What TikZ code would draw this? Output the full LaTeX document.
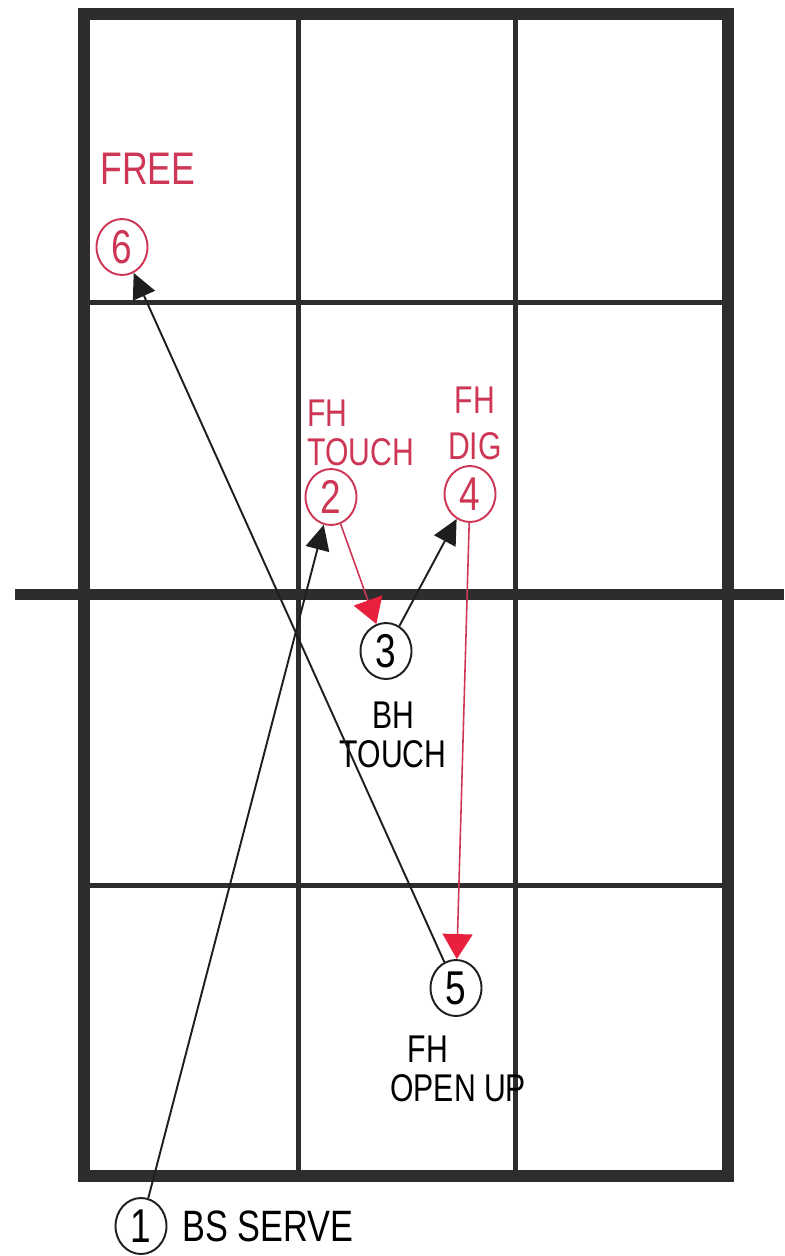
\documentclass[tikz,border=0pt]{standalone}
\usepackage{fontspec}
\usepackage{tikz}
\usetikzlibrary{shapes.geometric, arrows.meta, positioning}
\newfontfamily\handfont[FakeStretch=0.78]{Liberation Sans}
\definecolor{cInk}{RGB}{30,30,30}
\definecolor{cPen}{RGB}{205,55,85}
\definecolor{cTip}{RGB}{232,32,62}
\definecolor{cCourt}{RGB}{45,45,45}
\tikzset{
	% players / contacts
	shot/.style    ={ellipse, draw=cInk, line width=1.1pt, minimum width=1.02cm, minimum height=1.12cm, inner sep=0pt, font=\handfont\fontsize{27}{27}\selectfont},
	redshot/.style ={shot, draw=cPen, text=cPen},
	tag/.style     ={align=center, inner sep=0pt, font=\handfont\fontsize{22}{22}\selectfont},
	redtag/.style  ={tag, text=cPen},
	% ball paths
	blackhit/.style={-{Triangle[length=0.5cm, width=0.48cm]}, cInk, line width=1.1pt},
	redhit/.style  ={-{Triangle[length=0.5cm, width=0.6cm, color=cTip]}, cPen, line width=0.9pt},
	% court
	outline/.style ={draw=cCourt, line width=0.24cm},
	courtline/.style={draw=cCourt, line width=0.1cm},
}
\begin{document}
\begin{tikzpicture}[x=0.02cm, y=-0.02cm]
	\useasboundingbox (0,0) rectangle (784,1256);
	% court and net
	\draw[outline] (84,14) rectangle (728,1176);
	\foreach \x in {298,515} \draw[courtline] (\x,14) -- (\x,1176);
	\foreach \y in {303,885} \draw[courtline] (84,\y) -- (728,\y);
	\draw[cCourt, line width=0.22cm] (15,594) -- (784,594);
	% contacts
	\node[shot]    (s1) at (141,1226) {1};
	\node[redshot] (s2) at (331,497) {2};
	\node[shot]    (s3) at (386,651) {3};
	\node[redshot] (s4) at (470,494) {4};
	\node[shot]    (s5) at (456,988) {5};
	\node[redshot] (s6) at (122,247) {6};
	% labels
	\node[redtag, font=\handfont\fontsize{26}{26}\selectfont] (free) at (148,169) {FREE};
	\node[redtag, align=left, anchor=west] (fhtouch) at (307,433) {FH\\TOUCH};
	\node[redtag] (fhdig) at (475,423) {FH\\[0.15cm]DIG};
	\node[tag] (bhtouch) at (393,735) {BH\\TOUCH};
	\node[tag, align=left, anchor=west] (fhopen) at (390,1069) {\hspace{0.35cm}FH\\OPEN UP};
	\node[tag, anchor=west, font=\handfont\fontsize{25}{25}\selectfont] (serve) at (182,1226) {BS SERVE};
	% rally
	\draw[blackhit] (s1) -- (s2);
	\draw[redhit] (s2) -- (s3);
	\draw[blackhit] (s3) -- (s4);
	\draw[redhit] (s4) -- (s5);
	\draw[blackhit] (s5) -- (s6);
\end{tikzpicture}
\end{document}
